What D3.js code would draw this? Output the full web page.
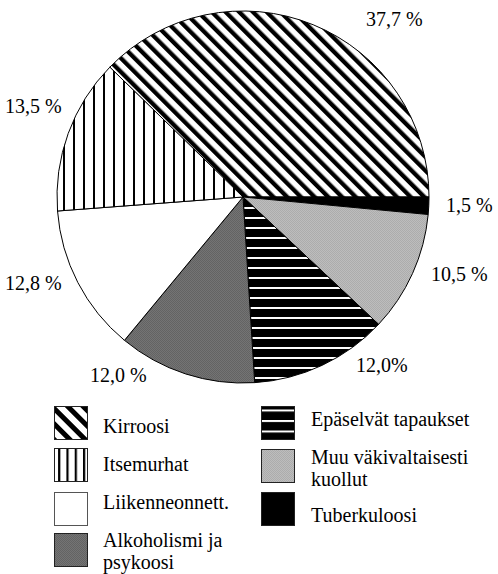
<!DOCTYPE html>
<html><head><meta charset="utf-8"><script src="https://cdn.jsdelivr.net/npm/d3@7"></script></head>
<body style="margin:0">
<svg id="chart" width="498" height="574"></svg>
<script>
// ---- data ----
const categories = ["Kirroosi", "Tuberkuloosi", "Muu väkivaltaisesti kuollut", "Epäselvät tapaukset",
                    "Alkoholismi ja psykoosi", "Liikenneonnett.", "Itsemurhat"];
const values = [37.7, 1.5, 10.5, 12.0, 12.0, 12.8, 13.5];
const valueLabels = ["37,7 %", "1,5 %", "10,5 %", "12,0%", "12,0 %", "12,8 %", "13,5 %"];
const legendLeft = [["Kirroosi"], ["Itsemurhat"], ["Liikenneonnett."], ["Alkoholismi ja", "psykoosi"]];
const legendLeftKeys = ["Kirroosi", "Itsemurhat", "Liikenneonnett.", "Alkoholismi ja psykoosi"];
const legendRight = [["Epäselvät tapaukset"], ["Muu väkivaltaisesti", "kuollut"], ["Tuberkuloosi"]];
const legendRightKeys = ["Epäselvät tapaukset", "Muu väkivaltaisesti kuollut", "Tuberkuloosi"];

// ---- layout ----
const FONT = "'Liberation Serif', monospace";
const cx = 243, cy = 197, R = 186;
const labelPos = {
  "Kirroosi": [366, 26],
  "Tuberkuloosi": [446, 212],
  "Muu väkivaltaisesti kuollut": [431, 281],
  "Epäselvät tapaukset": [356, 372],
  "Alkoholismi ja psykoosi": [90, 382],
  "Liikenneonnett.": [5, 290],
  "Itsemurhat": [5, 113]
};

const svg = d3.select("#chart");
const defs = svg.append("defs");

function stripePattern(id, period, lineW, bg, fg, rotate) {
  const p = defs.append("pattern").attr("id", id)
    .attr("patternUnits", "userSpaceOnUse")
    .attr("width", period).attr("height", period)
    .attr("patternTransform", `rotate(${rotate})`);
  p.append("rect").attr("width", period).attr("height", period).attr("fill", bg);
  p.append("rect").attr("x", 0).attr("y", 0).attr("width", lineW).attr("height", period).attr("fill", fg);
}
stripePattern("diag", 9.7, 4.3, "#fff", "#000", -45);
stripePattern("vert", 10, 2, "#fff", "#000", 0);
stripePattern("horz", 10, 2, "#000", "#fff", 90);
stripePattern("diagL", 11, 5, "#fff", "#000", -45);
stripePattern("vertL", 8.3, 2.2, "#fff", "#000", 0);
stripePattern("horzL", 10.5, 2, "#000", "#fff", 90);

function greyPattern(id, base, dot) {
  const p = defs.append("pattern").attr("id", id)
    .attr("patternUnits", "userSpaceOnUse").attr("width", 2).attr("height", 2);
  p.append("rect").attr("width", 2).attr("height", 2).attr("fill", base);
  p.append("rect").attr("width", 1).attr("height", 1).attr("fill", dot);
  p.append("rect").attr("x", 1).attr("y", 1).attr("width", 1).attr("height", 1).attr("fill", dot);
}
greyPattern("light", "#bdbdbd", "#acacac");
greyPattern("dark", "#747474", "#636363");

const pieFill = d3.scaleOrdinal().domain(categories)
  .range(["url(#diag)", "#000", "url(#light)", "url(#horz)", "url(#dark)", "#fff", "url(#vert)"]);
const legendFill = d3.scaleOrdinal().domain(categories)
  .range(["url(#diagL)", "#000", "url(#light)", "url(#horzL)", "url(#dark)", "#fff", "url(#vertL)"]);

// ---- pie ----
const startA = (90 - 37.7 * 3.6) * Math.PI / 180;
const pie = d3.pie().sort(null).value(d => d.v)
  .startAngle(startA).endAngle(startA + 2 * Math.PI);
const arcs = pie(categories.map((c, i) => ({ c, v: values[i], label: valueLabels[i] })));
const arc = d3.arc().innerRadius(0).outerRadius(R);

const g = svg.append("g").attr("transform", `translate(${cx},${cy})`);
g.selectAll("path.slice").data(arcs).join("path")
  .attr("class", "slice")
  .attr("d", arc)
  .attr("fill", d => pieFill(d.data.c))
  .attr("stroke", "#000")
  .attr("stroke-width", 1)
  .attr("stroke-linejoin", "round");

// value labels
arcs.forEach(d => {
  svg.append("text")
    .attr("x", labelPos[d.data.c][0])
    .attr("y", labelPos[d.data.c][1])
    .attr("font-size", 20)
    .attr("font-family", FONT)
    .text(d.data.label);
});

// ---- legend ----
function legendColumn(keys, lines, boxX, textX, rowY, textBase) {
  keys.forEach((k, i) => {
    svg.append("rect")
      .attr("x", boxX + 0.5).attr("y", rowY[i] + 0.5)
      .attr("width", 33).attr("height", 33)
      .attr("fill", legendFill(k))
      .attr("stroke", k === "Liikenneonnett." ? "#555" : "#222")
      .attr("stroke-width", 1);
    lines[i].forEach((ln, j) => {
      svg.append("text").attr("x", textX).attr("y", textBase[i] + j * 22)
        .attr("font-size", 20)
        .attr("font-family", FONT)
        .text(ln);
    });
  });
}
legendColumn(legendLeftKeys, legendLeft, 54, 103, [406, 448, 492, 533], [433, 471, 509, 547]);
legendColumn(legendRightKeys, legendRight, 261, 311, [406, 449, 492], [426, 464, 522]);
</script>
</body>
</html>
